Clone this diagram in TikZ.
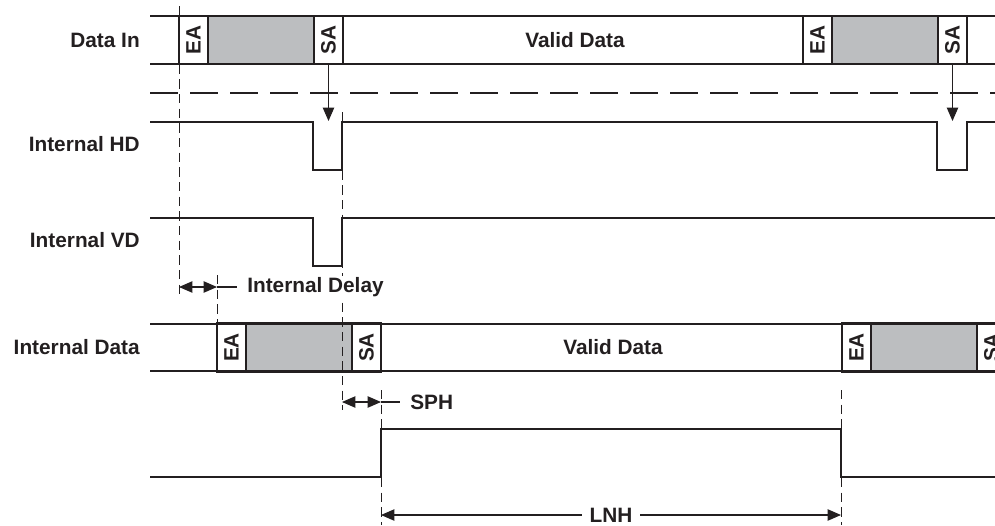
\documentclass[tikz,border=0pt]{standalone}
\usepackage{fontspec}
\setmainfont{Liberation Sans}
\usepackage{graphicx}
\usepackage{tikz}
\usetikzlibrary{positioning, arrows.meta}
\definecolor{ink}{HTML}{231F20}
\definecolor{blank}{HTML}{BCBEC0}

\begin{document}
\begin{tikzpicture}[
    x=0.75pt, y=-0.75pt,
    wire/.style={draw=ink, line width=1.7pt},
    guide/.style={draw=ink, line width=0.6pt, dash pattern=on 7pt off 4pt},
    arrow/.style={-{Triangle[length=10pt, width=8.5pt]}, draw=ink, line width=0.8pt},
    twoway/.style={{Triangle[length=10pt, width=8.5pt]}-{Triangle[length=10pt, width=8.5pt]}, draw=ink, line width=0.8pt},
    txt/.style={font=\bfseries\fontsize{15.6}{18}\selectfont, text=ink},
    row/.style={txt, anchor=east, inner sep=0pt},
    slot/.style={txt, draw=ink, fill=white, line width=1.7pt, outer sep=0pt,
                 inner sep=0pt, minimum width=21.75pt, minimum height=36pt},
    hold/.style={slot, fill=blank, minimum width=79.5pt}
]
    \useasboundingbox (0,0) rectangle (995,525);
    \clip (0,0) rectangle (995,525);

    % Row names
    \node[row] (datain) at (140,40) {Data In};
    \node[row] (inthd) at (140,144) {Internal HD};
    \node[row] (intvd) at (140,240) {Internal VD};
    \node[row] (intdata) at (140,347) {Internal Data};

    % === Data In ===
    \draw[wire] (150,16) -- (995,16);
    \draw[wire] (150,64) -- (995,64);
    \node[slot] (ea1) at (193.5,40) {\rotatebox{90}{EA}};
    \node[hold, right=0pt of ea1] (gap1) {};
    \node[slot, right=0pt of gap1] (sa1) {\rotatebox{90}{SA}};
    \node[txt] (valid1) at (575,40) {Valid Data};
    \node[slot] (ea2) at (817.5,40) {\rotatebox{90}{EA}};
    \node[hold, right=0pt of ea2] (gap2) {};
    \node[slot, right=0pt of gap2] (sa2) {\rotatebox{90}{SA}};

    \draw[wire, dash pattern=on 21pt off 9pt] (150,93) -- (995,93);

    % === Internal HD / VD ===
    \draw[wire] (150,122) -- (313,122) -- (313,170) -- (342,170) -- (342,122)
        -- (937,122) -- (937,170) -- (967,170) -- (967,122) -- (995,122);
    \draw[wire] (150,218) -- (313,218) -- (313,266) -- (342,266) -- (342,218) -- (995,218);

    \coordinate (hd1) at (328.5,121);
    \coordinate (hd2) at (952.5,121);
    \draw[arrow] (sa1.south) -- (hd1);
    \draw[arrow] (sa2.south) -- (hd2);

    % === Internal Data ===
    \draw[wire] (150,324) -- (995,324);
    \draw[wire] (150,371) -- (995,371);
    \node[slot] (ea3) at (231.5,347.5) {\rotatebox{90}{EA}};
    \node[hold, right=0pt of ea3] (gap3) {};
    \node[slot, right=0pt of gap3] (sa3) {\rotatebox{90}{SA}};
    \node[txt] (valid2) at (613,347.5) {Valid Data};
    \node[slot] (ea4) at (856.5,347.5) {\rotatebox{90}{EA}};
    \node[hold, right=0pt of ea4] (gap4) {};
    \node[slot, right=0pt of gap4] (sa4) {\rotatebox{90}{SA}};

    % === Line window ===
    \draw[wire] (150,477) -- (381,477) -- (381,429) -- (841,429) -- (841,477) -- (995,477);

    % Guides
    \draw[guide] (179,6) -- (179,295);
    \draw[guide] (217,275) -- (217,324);
    \draw[guide] (342,112) -- (342,410);
    \draw[guide] (381,390) -- (381,525);
    \draw[guide] (841,390) -- (841,525);

    % Internal Delay
    \coordinate (dly1) at (179,287);
    \coordinate (dly2) at (217,287);
    \draw[twoway] (dly1) -- (dly2);
    \node[txt, anchor=west, fill=white, inner xsep=7.5pt, inner ysep=1pt] (dlylbl) at (237,287) {Internal Delay};
    \draw[ink, line width=0.8pt] (dly2) -- (dlylbl.west);

    % SPH
    \coordinate (sph1) at (342,402);
    \coordinate (sph2) at (381,402);
    \draw[twoway] (sph1) -- (sph2);
    \node[txt, anchor=west, inner xsep=7.5pt] (sphlbl) at (400,402) {SPH};
    \draw[ink, line width=0.8pt] (sph2) -- (sphlbl.west);

    % LNH
    \coordinate (lnh1) at (381,515);
    \coordinate (lnh2) at (841,515);
    \draw[twoway] (lnh1) -- node[txt, fill=white, inner xsep=6pt, inner ysep=0pt] (lnhlbl) {LNH} (lnh2);

\end{tikzpicture}
\end{document}
